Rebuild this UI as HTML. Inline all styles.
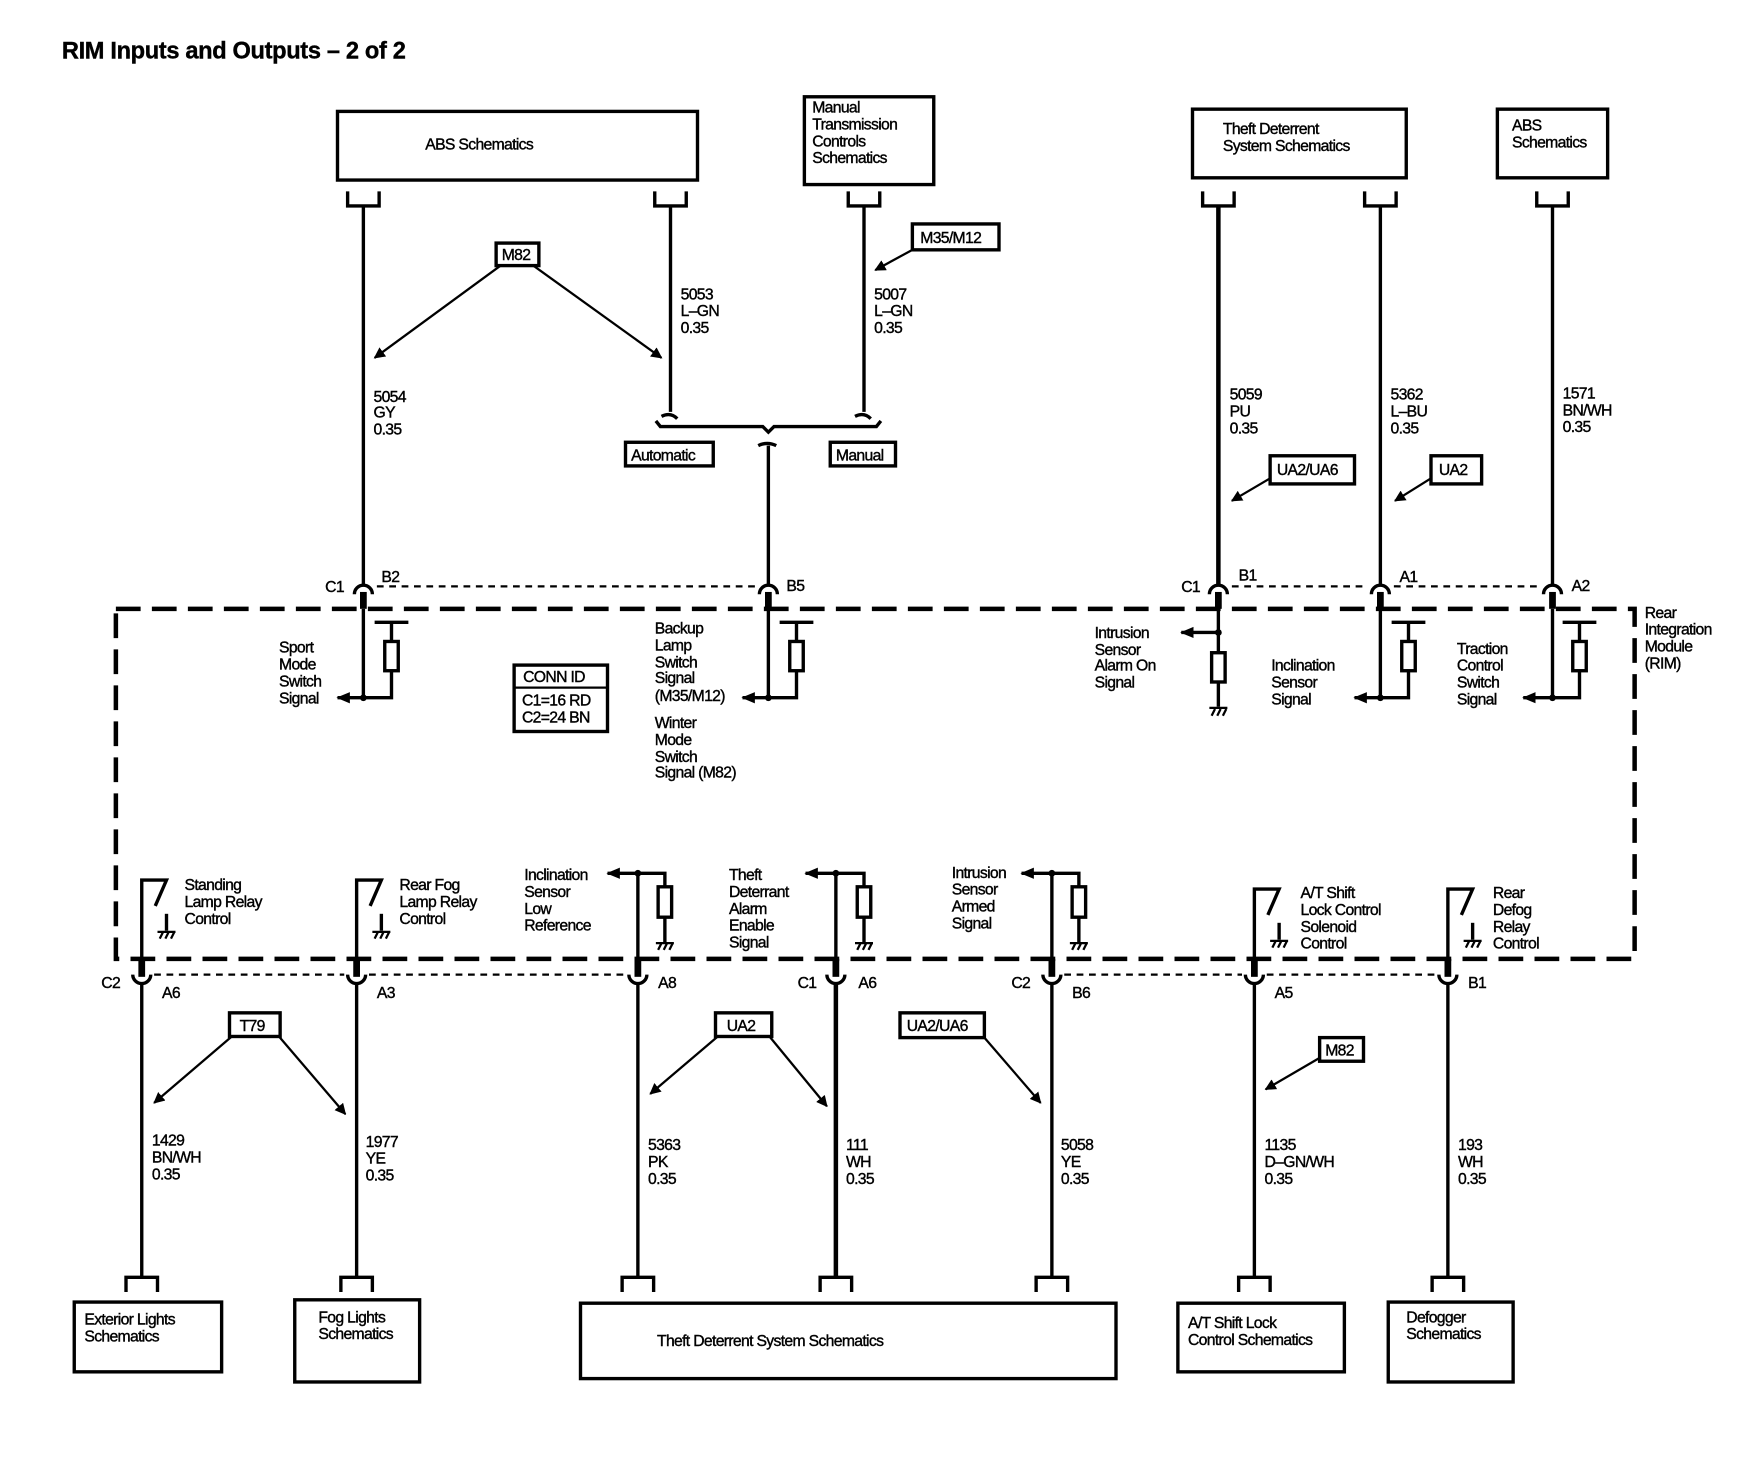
<!DOCTYPE html>
<html><head><meta charset="utf-8"><style>
html,body{margin:0;padding:0;background:#fff;}
svg{display:block;}
text{font-family:"Liberation Sans",sans-serif;font-size:14px;letter-spacing:-0.6px;fill:#000;stroke:#000;stroke-width:0.35;}
.w{stroke:#000;stroke-width:3;fill:none;}
.t{stroke:#000;stroke-width:2;fill:none;}
.b{stroke:#000;stroke-width:3;fill:#fff;}
</style></head><body>
<svg width="1764" height="1472" viewBox="0 0 1568 1308" preserveAspectRatio="none" xmlns="http://www.w3.org/2000/svg">
<defs>
<marker id="ah" markerWidth="10" markerHeight="10" refX="9" refY="5" orient="auto" markerUnits="userSpaceOnUse"><path d="M0,0 L10,5 L0,10 z" fill="#000"/></marker>
<marker id="al" markerWidth="12" markerHeight="12" refX="11" refY="6" orient="auto" markerUnits="userSpaceOnUse"><path d="M0,1 L12,6 L0,11 z" fill="#000"/></marker>
</defs>
<text x="55" y="52" style="font-size:21px;font-weight:bold;letter-spacing:-0.3px">RIM Inputs and Outputs – 2 of 2</text>

<rect x="300" y="99" width="320" height="61" class="b"/>
<text x="378" y="133">ABS Schematics</text>
<rect x="715" y="86" width="115" height="78" class="b"/>
<text x="722" y="100">Manual</text><text x="722" y="115">Transmission</text><text x="722" y="130">Controls</text><text x="722" y="145">Schematics</text>
<rect x="1060" y="97" width="190" height="61" class="b"/>
<text x="1087" y="119">Theft Deterrent</text><text x="1087" y="134">System Schematics</text>
<rect x="1331" y="97" width="98" height="61" class="b"/>
<text x="1344" y="116">ABS</text><text x="1344" y="131">Schematics</text>

<g class="w">
<path d="M309,170 V183 H337 V170"/><path d="M582,170 V183 H610 V170"/><path d="M754,170 V183 H782 V170"/>
<path d="M1069,170 V183 H1097 V170"/><path d="M1213,170 V183 H1241 V170"/><path d="M1366,170 V183 H1394 V170"/>
<path d="M323,183 V520"/><path d="M596,183 V366"/><path d="M768,183 V366"/>
<path d="M1227,183 V520"/><path d="M1380,183 V520"/>
</g>
<path d="M1083,183 V520" stroke="#000" stroke-width="4"/>
<path d="M588,370 q8,-4 14,2" class="w"/><path d="M760,370 q8,-4 14,2" class="w"/>
<path d="M583,374 l4,5 H678 l5,5 l5,-5 H779 l4,-5" class="w"/>
<path d="M674,396 q8,-4 16,0 M683,396 V520" class="w"/>
<rect x="556" y="393" width="78" height="21" class="b" stroke-width="2.5"/><text x="561" y="409">Automatic</text>
<rect x="738" y="393" width="58" height="21" class="b" stroke-width="2.5"/><text x="743" y="409">Manual</text>

<text x="332" y="357">5054</text><text x="332" y="371">GY</text><text x="332" y="386">0.35</text>
<text x="605" y="266">5053</text><text x="605" y="281">L–GN</text><text x="605" y="296">0.35</text>
<text x="777" y="266">5007</text><text x="777" y="281">L–GN</text><text x="777" y="296">0.35</text>
<text x="1093" y="355">5059</text><text x="1093" y="370">PU</text><text x="1093" y="385">0.35</text>
<text x="1236" y="355">5362</text><text x="1236" y="370">L–BU</text><text x="1236" y="385">0.35</text>
<text x="1389" y="354">1571</text><text x="1389" y="369">BN/WH</text><text x="1389" y="384">0.35</text>

<rect x="441" y="216" width="38" height="20" class="b" stroke-width="2.5"/><text x="446" y="231">M82</text>
<path d="M445,236 L333,318" stroke="#000" stroke-width="2" marker-end="url(#ah)"/>
<path d="M474,236 L588,318" stroke="#000" stroke-width="2" marker-end="url(#ah)"/>
<rect x="811" y="199" width="77" height="23" class="b" stroke-width="2.5"/><text x="818" y="216">M35/M12</text>
<path d="M811,222 L778,240" stroke="#000" stroke-width="2" marker-end="url(#ah)"/>
<rect x="1129" y="405" width="75" height="25" class="b" stroke-width="2.5"/><text x="1135" y="422">UA2/UA6</text>
<path d="M1129,425 L1095,445" stroke="#000" stroke-width="2" marker-end="url(#ah)"/>
<rect x="1272" y="405" width="45" height="25" class="b" stroke-width="2.5"/><text x="1279" y="422">UA2</text>
<path d="M1272,425 L1240,445" stroke="#000" stroke-width="2" marker-end="url(#ah)"/>

<g class="w">
<path d="M315,528 a8,8 0 0 1 16,0"/><path d="M675,528 a8,8 0 0 1 16,0"/>
<path d="M1075,528 a8,8 0 0 1 16,0"/><path d="M1219,528 a8,8 0 0 1 16,0"/><path d="M1372,528 a8,8 0 0 1 16,0"/>
</g>
<g stroke="#000" stroke-width="6">
<path d="M323,526 V541"/><path d="M683,526 V541"/><path d="M1083,526 V541"/><path d="M1227,526 V541"/><path d="M1380,526 V541"/>
</g>
<g stroke="#000" stroke-width="2" stroke-dasharray="6,5">
<path d="M335,521 H672"/><path d="M1095,521 H1216"/><path d="M1239,521 H1369"/>
</g>
<text x="289" y="526">C1</text><text x="339" y="517">B2</text><text x="699" y="525">B5</text>
<text x="1050" y="526">C1</text><text x="1101" y="516">B1</text><text x="1244" y="517">A1</text><text x="1397" y="525">A2</text>

<rect x="103" y="541" width="1350" height="311" fill="none" stroke="#000" stroke-width="4" stroke-dasharray="22,10"/>
<text x="1462" y="549">Rear</text><text x="1462" y="564">Integration</text><text x="1462" y="579">Module</text><text x="1462" y="594">(RIM)</text>

<g class="w">
<path d="M323,541 V620 H300" marker-end="url(#al)"/>
<path d="M333,553 H363 M348,553 V570 M348,596 V620 H323"/>
<path d="M683,541 V620 H660" marker-end="url(#al)"/>
<path d="M693,553 H723 M708,553 V570 M708,596 V620 H683"/>
<path d="M1083,541 V628 M1083,562 H1050" marker-end="url(#al)"/>
<path d="M1227,541 V620 H1204" marker-end="url(#al)"/>
<path d="M1237,553 H1267 M1252,553 V570 M1252,596 V620 H1227"/>
<path d="M1380,541 V620 H1354" marker-end="url(#al)"/>
<path d="M1389,553 H1419 M1404,553 V570 M1404,596 V620 H1380"/>
</g>
<g class="b" stroke-width="2.5">
<rect x="342" y="570" width="12" height="26"/><rect x="702" y="570" width="12" height="26"/>
<rect x="1077" y="580" width="12" height="26"/><rect x="1246" y="570" width="12" height="26"/><rect x="1398" y="570" width="12" height="26"/>
</g>
<g fill="#000"><circle cx="323" cy="620" r="3"/><circle cx="683" cy="620" r="3"/><circle cx="1083" cy="562" r="3"/><circle cx="1227" cy="620" r="3"/><circle cx="1380" cy="620" r="3"/></g>
<path d="M1075,629 H1091 M1077,636 l3,-6 M1082,636 l3,-6 M1087,636 l3,-6" class="t"/>

<text x="248" y="580">Sport</text><text x="248" y="595">Mode</text><text x="248" y="610">Switch</text><text x="248" y="625">Signal</text>
<text x="582" y="563">Backup</text><text x="582" y="578">Lamp</text><text x="582" y="593">Switch</text><text x="582" y="607">Signal</text><text x="582" y="623">(M35/M12)</text>
<text x="582" y="647">Winter</text><text x="582" y="662">Mode</text><text x="582" y="677">Switch</text><text x="582" y="691">Signal (M82)</text>
<rect x="457" y="591" width="83" height="59" class="b"/><path d="M457,611 H540" class="t"/>
<text x="465" y="606">CONN ID</text><text x="464" y="627">C1=16 RD</text><text x="464" y="642">C2=24 BN</text>
<text x="973" y="567">Intrusion</text><text x="973" y="582">Sensor</text><text x="973" y="596">Alarm On</text><text x="973" y="611">Signal</text>
<text x="1130" y="596">Inclination</text><text x="1130" y="611">Sensor</text><text x="1130" y="626">Signal</text>
<text x="1295" y="581">Traction</text><text x="1295" y="596">Control</text><text x="1295" y="611">Switch</text><text x="1295" y="626">Signal</text>

<g class="w">
<path d="M126,852 V782 H148 L138,805"/><path d="M148,812 V827"/>
<path d="M317,852 V782 H339 L329,805"/><path d="M339,812 V827"/>
<path d="M1115,852 V790 H1137 L1127,813"/><path d="M1137,820 V835"/>
<path d="M1287,852 V790 H1309 L1299,813"/><path d="M1309,820 V835"/>
</g>
<g class="t">
<path d="M140,828 H156 M142,834 l3,-6 M147,834 l3,-6 M152,834 l3,-6"/>
<path d="M331,828 H347 M333,834 l3,-6 M338,834 l3,-6 M343,834 l3,-6"/>
<path d="M1129,836 H1145 M1131,842 l3,-6 M1136,842 l3,-6 M1141,842 l3,-6"/>
<path d="M1301,836 H1317 M1303,842 l3,-6 M1308,842 l3,-6 M1313,842 l3,-6"/>
<path d="M583,838 H599 M585,844 l3,-6 M590,844 l3,-6 M595,844 l3,-6"/>
<path d="M760,838 H776 M762,844 l3,-6 M767,844 l3,-6 M772,844 l3,-6"/>
<path d="M951,838 H967 M953,844 l3,-6 M958,844 l3,-6 M963,844 l3,-6"/>
</g>
<g class="w">
<path d="M567,852 V776 H591 V788 M591,815 V838 M567,776 H540" marker-end="url(#al)"/>
<path d="M743,852 V776 H768 V788 M768,815 V838 M743,776 H716" marker-end="url(#al)"/>
<path d="M935,852 V776 H959 V788 M959,815 V838 M935,776 H908" marker-end="url(#al)"/>
</g>
<g class="b" stroke-width="2.5"><rect x="585" y="788" width="12" height="27"/><rect x="762" y="788" width="12" height="27"/><rect x="953" y="788" width="12" height="27"/></g>
<g fill="#000"><circle cx="567" cy="776" r="3"/><circle cx="743" cy="776" r="3"/><circle cx="935" cy="776" r="3"/></g>

<text x="164" y="791">Standing</text><text x="164" y="806">Lamp Relay</text><text x="164" y="821">Control</text>
<text x="355" y="791">Rear Fog</text><text x="355" y="806">Lamp Relay</text><text x="355" y="821">Control</text>
<text x="466" y="782">Inclination</text><text x="466" y="797">Sensor</text><text x="466" y="812">Low</text><text x="466" y="827">Reference</text>
<text x="648" y="782">Theft</text><text x="648" y="797">Deterrant</text><text x="648" y="812">Alarm</text><text x="648" y="827">Enable</text><text x="648" y="842">Signal</text>
<text x="846" y="780">Intrusion</text><text x="846" y="795">Sensor</text><text x="846" y="810">Armed</text><text x="846" y="825">Signal</text>
<text x="1156" y="798">A/T Shift</text><text x="1156" y="813">Lock Control</text><text x="1156" y="828">Solenoid</text><text x="1156" y="843">Control</text>
<text x="1327" y="798">Rear</text><text x="1327" y="813">Defog</text><text x="1327" y="828">Relay</text><text x="1327" y="843">Control</text>

<g stroke="#000" stroke-width="6">
<path d="M126,852 V868"/><path d="M317,852 V868"/><path d="M567,852 V868"/><path d="M743,852 V868"/><path d="M935,852 V868"/><path d="M1115,852 V868"/><path d="M1287,852 V868"/>
</g>
<g class="w">
<path d="M118,866 a8,8 0 0 0 16,0"/><path d="M309,866 a8,8 0 0 0 16,0"/><path d="M559,866 a8,8 0 0 0 16,0"/><path d="M735,866 a8,8 0 0 0 16,0"/><path d="M927,866 a8,8 0 0 0 16,0"/><path d="M1107,866 a8,8 0 0 0 16,0"/><path d="M1279,866 a8,8 0 0 0 16,0"/>
<path d="M126,874 V1135"/><path d="M317,874 V1135"/><path d="M567,874 V1135"/><path d="M935,874 V1135"/><path d="M1115,874 V1135"/><path d="M1287,874 V1135"/>
<path d="M112,1148 V1135 H140 V1148"/><path d="M303,1148 V1135 H331 V1148"/><path d="M553,1148 V1135 H581 V1148"/><path d="M729,1148 V1135 H757 V1148"/><path d="M921,1148 V1135 H949 V1148"/><path d="M1101,1148 V1135 H1129 V1148"/><path d="M1273,1148 V1135 H1301 V1148"/>
</g>
<path d="M743,874 V1135" stroke="#000" stroke-width="4"/>
<g stroke="#000" stroke-width="2" stroke-dasharray="6,5">
<path d="M137,866 H306"/><path d="M328,866 H556"/><path d="M946,866 H1104"/><path d="M1126,866 H1276"/>
</g>
<text x="90" y="878">C2</text><text x="144" y="887">A6</text><text x="335" y="887">A3</text><text x="585" y="878">A8</text>
<text x="709" y="878">C1</text><text x="763" y="878">A6</text><text x="899" y="878">C2</text><text x="953" y="887">B6</text>
<text x="1133" y="887">A5</text><text x="1305" y="878">B1</text>

<rect x="204" y="900" width="45" height="21" class="b" stroke-width="2.5"/><text x="213" y="916">T79</text>
<path d="M206,921 L137,980" stroke="#000" stroke-width="2" marker-end="url(#ah)"/>
<path d="M248,921 L307,990" stroke="#000" stroke-width="2" marker-end="url(#ah)"/>
<rect x="636" y="900" width="50" height="21" class="b" stroke-width="2.5"/><text x="646" y="916">UA2</text>
<path d="M638,921 L578,972" stroke="#000" stroke-width="2" marker-end="url(#ah)"/>
<path d="M684,921 L735,983" stroke="#000" stroke-width="2" marker-end="url(#ah)"/>
<rect x="800" y="900" width="75" height="22" class="b" stroke-width="2.5"/><text x="806" y="916">UA2/UA6</text>
<path d="M875,922 L925,980" stroke="#000" stroke-width="2" marker-end="url(#ah)"/>
<rect x="1173" y="922" width="39" height="21" class="b" stroke-width="2.5"/><text x="1178" y="938">M82</text>
<path d="M1173,940 L1125,968" stroke="#000" stroke-width="2" marker-end="url(#ah)"/>

<text x="135" y="1018">1429</text><text x="135" y="1033">BN/WH</text><text x="135" y="1048">0.35</text>
<text x="325" y="1019">1977</text><text x="325" y="1034">YE</text><text x="325" y="1049">0.35</text>
<text x="576" y="1022">5363</text><text x="576" y="1037">PK</text><text x="576" y="1052">0.35</text>
<text x="752" y="1022">111</text><text x="752" y="1037">WH</text><text x="752" y="1052">0.35</text>
<text x="943" y="1022">5058</text><text x="943" y="1037">YE</text><text x="943" y="1052">0.35</text>
<text x="1124" y="1022">1135</text><text x="1124" y="1037">D–GN/WH</text><text x="1124" y="1052">0.35</text>
<text x="1296" y="1022">193</text><text x="1296" y="1037">WH</text><text x="1296" y="1052">0.35</text>

<rect x="66" y="1157" width="131" height="62" class="b"/><text x="75" y="1177">Exterior Lights</text><text x="75" y="1192">Schematics</text>
<rect x="262" y="1155" width="111" height="73" class="b"/><text x="283" y="1175">Fog Lights</text><text x="283" y="1190">Schematics</text>
<rect x="516" y="1158" width="476" height="67" class="b"/><text x="584" y="1196">Theft Deterrent System Schematics</text>
<rect x="1047" y="1158" width="148" height="61" class="b"/><text x="1056" y="1180">A/T Shift Lock</text><text x="1056" y="1195">Control Schematics</text>
<rect x="1234" y="1157" width="111" height="71" class="b"/><text x="1250" y="1175">Defogger</text><text x="1250" y="1190">Schematics</text>
</svg>
</body></html>
